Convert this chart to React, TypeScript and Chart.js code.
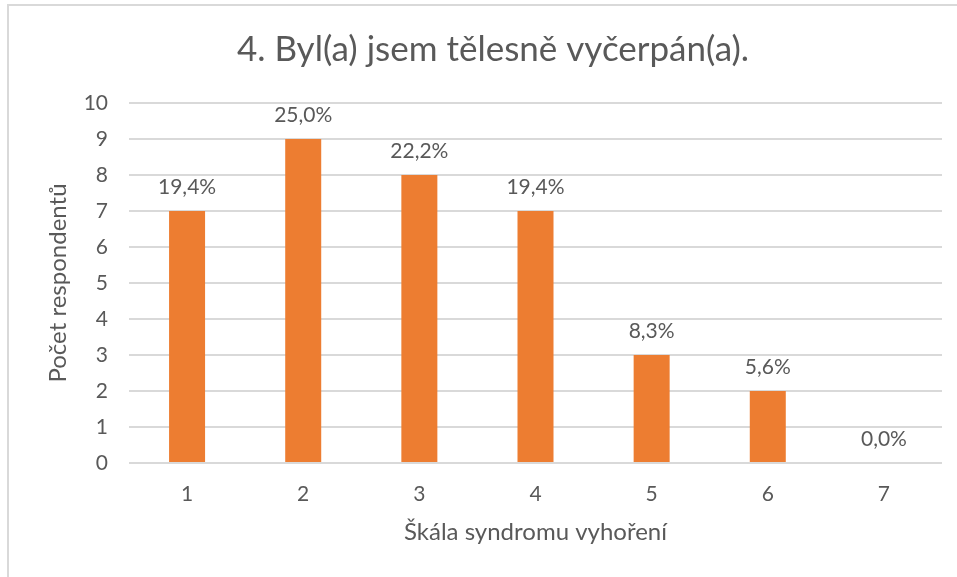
import React, { useEffect, useRef } from "react";
import { Chart, registerables } from "chart.js";

Chart.register(...registerables);

const categories = ["1", "2", "3", "4", "5", "6", "7"];
const counts = [7, 9, 8, 7, 3, 2, 0];
const percentLabels = ["19,4%", "25,0%", "22,2%", "19,4%", "8,3%", "5,6%", "0,0%"];
const yTicks = [0, 1, 2, 3, 4, 5, 6, 7, 8, 9, 10];

const FONT = "Lato";
const TEXT = "#595959";

const framePlugin = {
  id: "frame",
  beforeDraw(chart: any) {
    const ctx = chart.ctx;
    ctx.save();
    ctx.fillStyle = "#ffffff";
    ctx.fillRect(0, 0, chart.width, chart.height);
    ctx.strokeStyle = "#d9d9d9";
    ctx.lineWidth = 2;
    ctx.strokeRect(8, 5, chart.width + 20, chart.height + 20);
    ctx.restore();
  },
};

const labelPlugin = {
  id: "barLabels",
  afterDatasetsDraw(chart: any) {
    const ctx = chart.ctx;
    const meta = chart.getDatasetMeta(0);
    ctx.save();
    ctx.fillStyle = TEXT;
    ctx.font = `21px ${FONT}`;
    ctx.textAlign = "center";
    ctx.textBaseline = "middle";
    meta.data.forEach((bar: any, i: number) => {
      ctx.fillText(percentLabels[i], bar.x, bar.y - 24);
    });
    ctx.restore();
  },
};

export default function App() {
  const ref = useRef<HTMLCanvasElement>(null);
  useEffect(() => {
    if (!ref.current) return;
    const chart = new Chart(ref.current, {
      type: "bar",
      data: {
        labels: categories,
        datasets: [
          {
            data: counts,
            backgroundColor: "#ED7D31",
            categoryPercentage: 1,
            barPercentage: 0.31,
          },
        ],
      },
      options: {
        animation: false,
        responsive: false,
        layout: { padding: { left: 44, right: 15, top: 29, bottom: 30 } },
        plugins: {
          legend: { display: false },
          tooltip: { enabled: false },
          title: {
            display: true,
            text: "4. Byl(a) jsem tělesně vyčerpán(a).",
            color: TEXT,
            font: { family: FONT, size: 35, weight: "normal" },
            padding: { top: 0, bottom: 32 },
          },
        },
        scales: {
          x: {
            grid: { display: false, drawTicks: false },
            border: { display: false },
            ticks: { color: TEXT, font: { family: FONT, size: 21 }, padding: 19 },
            title: {
              display: true,
              text: "Škála syndromu vyhoření",
              color: TEXT,
              font: { family: FONT, size: 24 },
              padding: 0,
            },
            afterFit: (s: any) => {
              s.height = 577 - 463 - 30;
            },
          },
          y: {
            min: 0,
            max: 10,
            afterBuildTicks: (s: any) => {
              s.ticks = yTicks.map((v) => ({ value: v }));
            },
            grid: { color: "#d9d9d9", lineWidth: 2, drawTicks: false },
            border: { display: false },
            ticks: { color: TEXT, font: { family: FONT, size: 21 }, padding: 21 },
            title: {
              display: true,
              text: "Počet respondentů",
              color: TEXT,
              font: { family: FONT, size: 24 },
              padding: 0,
            },
            afterFit: (s: any) => {
              s.width = 129 - 44;
            },
          },
        },
      },
      plugins: [framePlugin, labelPlugin],
    });
    return () => chart.destroy();
  }, []);
  return (
    <div style={{ position: "fixed", left: 0, top: 0, width: 957, height: 577 }}>
      <canvas ref={ref} width={957} height={577} style={{ display: "block" }} />
    </div>
  );
}
